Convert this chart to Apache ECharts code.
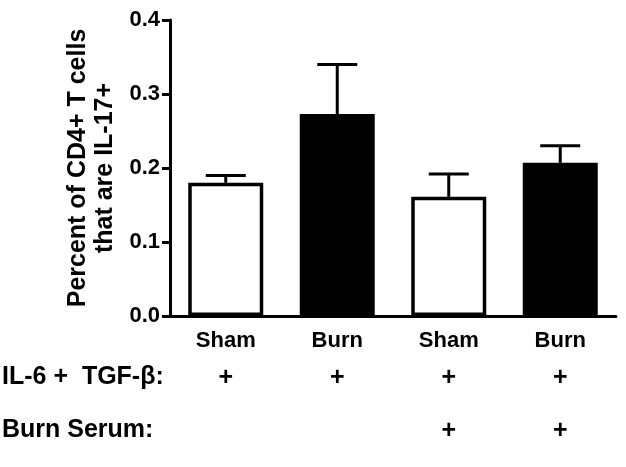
<!DOCTYPE html>
<html>
<head>
<meta charset="utf-8">
<script src="https://cdn.jsdelivr.net/npm/echarts@6/dist/echarts.min.js"></script>
<style>html,body{margin:0;padding:0;background:#fff;}#c{width:626px;height:467px;}</style>
</head>
<body>
<div id="c"></div>
<script>
var categories = ['Sham', 'Burn', 'Sham', 'Burn'];
var means = [0.18, 0.273, 0.161, 0.207];
var errors = [0.01, 0.067, 0.031, 0.023];
var fills = ['#ffffff', '#000000', '#ffffff', '#000000'];
var row1Labels = ['+', '+', '+', '+'];
var row2Labels = ['', '', '+', '+'];
var row1Title = 'IL-6 +  TGF-\u03b2:';
var row2Title = 'Burn Serum:';
var yTicks = [0, 0.1, 0.2, 0.3, 0.4];
var yName = 'Percent of CD4+ T cells\nthat are IL-17+';

var FONT = '"Liberation Sans", Arial, sans-serif';
var chart = echarts.init(document.getElementById('c'), null, {renderer: 'canvas'});

var barData = means.map(function (v, i) {
  return {value: v, itemStyle: {color: fills[i], borderColor: '#000', borderWidth: 3.5}};
});
var errData = means.map(function (v, i) { return [i, v, v + errors[i]]; });

function hiddenAxis(labels, offset) {
  return {
    type: 'category', data: labels, position: 'bottom', offset: offset,
    axisLine: {show: false}, axisTick: {show: false}, splitLine: {show: false},
    axisLabel: {color: '#000', fontFamily: FONT, fontWeight: 'bold', fontSize: 25, margin: 0}
  };
}

chart.setOption({
  animation: false,
  backgroundColor: '#fff',
  grid: {left: 170, right: 10, top: 20, bottom: 151, containLabel: false},
  xAxis: [{
    type: 'category', data: categories,
    axisLine: {lineStyle: {color: '#000', width: 3}},
    axisTick: {alignWithLabel: true, length: 7, lineStyle: {color: '#000', width: 3}},
    axisLabel: {color: '#000', fontFamily: FONT, fontWeight: 'bold', fontSize: 22, margin: 14}
  }, hiddenAxis(row1Labels, 50), hiddenAxis(row2Labels, 103)],
  yAxis: {
    type: 'value', min: yTicks[0], max: yTicks[yTicks.length - 1], interval: 0.1,
    name: yName, nameLocation: 'middle', nameGap: 43, nameRotate: 90,
    nameTextStyle: {color: '#000', fontFamily: FONT, fontWeight: 'bold', fontSize: 25, lineHeight: 27},
    axisLine: {show: true, lineStyle: {color: '#000', width: 3}},
    axisTick: {show: true, length: 8, lineStyle: {color: '#000', width: 3}},
    splitLine: {show: false},
    axisLabel: {color: '#000', fontFamily: FONT, fontWeight: 'bold', fontSize: 22, margin: 10,
      formatter: function (v) { return v.toFixed(1); }}
  },
  graphic: [
    {type: 'text', left: 2, top: 365, style: {text: row1Title, fill: '#000', font: 'bold 25px ' + FONT}},
    {type: 'text', left: 2, top: 418, style: {text: row2Title, fill: '#000', font: 'bold 25px ' + FONT}}
  ],
  series: [{
    type: 'bar', data: barData, barWidth: 75, z: 2
  }, {
    type: 'custom', z: 3, data: errData,
    renderItem: function (params, api) {
      var x = api.value(0);
      var p0 = api.coord([x, api.value(1)]);
      var p1 = api.coord([x, api.value(2)]);
      var half = 20;
      var st = {stroke: '#000', lineWidth: 3};
      return {type: 'group', children: [
        {type: 'line', shape: {x1: p0[0], y1: p0[1], x2: p1[0], y2: p1[1]}, style: st},
        {type: 'line', shape: {x1: p1[0] - half, y1: p1[1], x2: p1[0] + half, y2: p1[1]}, style: st}
      ]};
    }
  }]
});
</script>
</body>
</html>
